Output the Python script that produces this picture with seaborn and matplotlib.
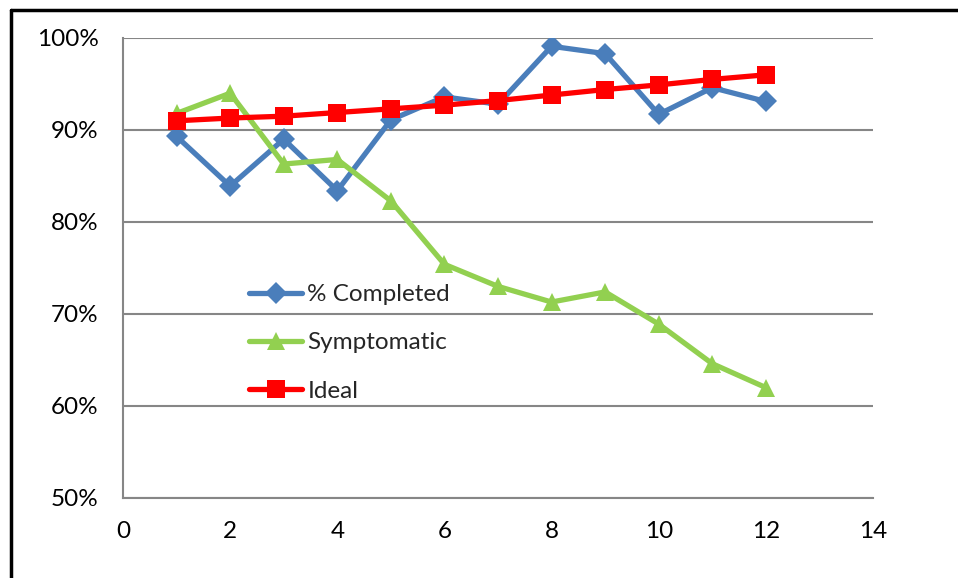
import matplotlib
matplotlib.use("Agg")
import matplotlib.pyplot as plt
from matplotlib.lines import Line2D
from matplotlib.ticker import PercentFormatter
import pandas as pd
import seaborn as sns

# Monthly values (fraction of 1)
months = [1, 2, 3, 4, 5, 6, 7, 8, 9, 10, 11, 12]
completed = [0.893, 0.839, 0.890, 0.834, 0.911, 0.936, 0.928, 0.991, 0.983, 0.917, 0.946, 0.931]
symptomatic = [0.918, 0.940, 0.863, 0.868, 0.823, 0.754, 0.730, 0.713, 0.724, 0.689, 0.646, 0.620]
ideal = [0.910, 0.913, 0.915, 0.919, 0.923, 0.927, 0.932, 0.938, 0.944, 0.949, 0.955, 0.960]

series_names = ["% Completed", "Symptomatic", "Ideal"]
colors = ["#4A7EBB", "#92D050", "#FF0000"]
markers = ["D", "^", "s"]
marker_sizes = [11, 13, 13]

df = pd.DataFrame({
    "x": months * 3,
    "value": completed + symptomatic + ideal,
    "series": [series_names[0]] * 12 + [series_names[1]] * 12 + [series_names[2]] * 12,
})

sns.set_style("white")
plt.rcParams["font.family"] = ["Lato", "DejaVu Sans"]

fig = plt.figure(figsize=(9.58, 5.78), dpi=100)
ax = fig.add_axes([123 / 958, 1 - 498 / 578, 750 / 958, 460 / 578])

for name, col, mk, ms in zip(series_names, colors, markers, marker_sizes):
    sub = df[df["series"] == name]
    sns.lineplot(data=sub, x="x", y="value", ax=ax, color=col, linewidth=3.8,
                 marker=mk, markersize=ms, markeredgewidth=0, label=name,
                 zorder=3 if name != "Ideal" else 4)

ax.set_xlim(0, 14)
ax.set_ylim(0.5, 1.0)
ax.set_xticks(range(0, 15, 2))
ax.set_yticks([0.5, 0.6, 0.7, 0.8, 0.9, 1.0])
ax.yaxis.set_major_formatter(PercentFormatter(1.0, decimals=0))
ax.set_xlabel("")
ax.set_ylabel("")

grid_col = "#868686"
ax.grid(axis="y", color=grid_col, linewidth=1.5)
ax.set_axisbelow(True)
for side in ["top", "right"]:
    ax.spines[side].set_visible(False)
for side in ["left", "bottom"]:
    ax.spines[side].set_color(grid_col)
    ax.spines[side].set_linewidth(1.5)
ax.tick_params(axis="both", which="both", direction="out", length=5.5, width=1.5,
               color=grid_col, labelsize=17.5, labelcolor="black")
ax.tick_params(axis="y", pad=12)
ax.tick_params(axis="x", pad=11)
ax.set_facecolor("white")

leg = ax.legend(loc="upper left", bbox_to_anchor=(0.168, 0.465), frameon=False,
                fontsize=17.5, handlelength=2.2, handletextpad=0.2, labelspacing=1.12,
                borderaxespad=0, borderpad=0)

# Black frame along the top and left of the figure
fig.add_artist(Line2D([11 / 958, 1.0], [1 - 10 / 578, 1 - 10 / 578],
                      transform=fig.transFigure, color="black", linewidth=2.5))
fig.add_artist(Line2D([11 / 958, 11 / 958], [0.0, 1 - 10 / 578],
                      transform=fig.transFigure, color="black", linewidth=2.5))

fig.savefig("out.png", dpi=100, facecolor="white")
